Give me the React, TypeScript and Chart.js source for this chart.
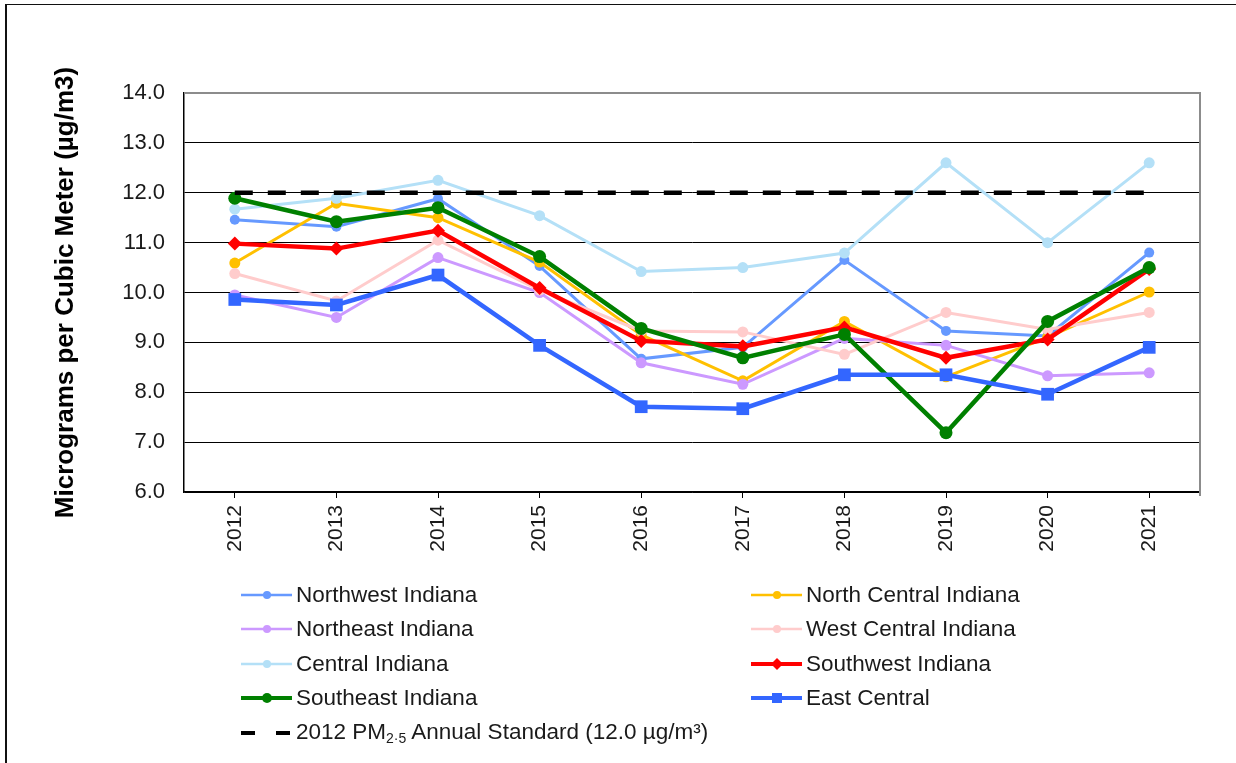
import React, { useEffect, useRef } from "react";
import { Chart, registerables } from "chart.js";

Chart.register(...registerables);

const years = ["2012", "2013", "2014", "2015", "2016", "2017", "2018", "2019", "2020", "2021"];

const northwest = [11.46, 11.32, 11.88, 10.53, 8.67, 8.9, 10.65, 9.23, 9.13, 10.8];
const northCentral = [10.59, 11.79, 11.5, 10.61, 9.15, 8.23, 9.42, 8.31, 9.1, 10.01];
const northeast = [9.95, 9.5, 10.7, 10.0, 8.59, 8.16, 9.08, 8.94, 8.33, 8.39];
const westCentral = [10.38, 9.83, 11.05, 10.05, 9.23, 9.21, 8.76, 9.6, 9.26, 9.6];
const central = [11.67, 11.89, 12.25, 11.54, 10.42, 10.5, 10.79, 12.6, 11.0, 12.6];
const southwest = [10.98, 10.88, 11.24, 10.09, 9.03, 8.92, 9.3, 8.69, 9.06, 10.47];
const southeast = [11.89, 11.42, 11.7, 10.72, 9.28, 8.69, 9.16, 7.19, 9.42, 10.5];
const eastCentral = [9.86, 9.75, 10.35, 8.94, 7.71, 7.67, 8.35, 8.35, 7.96, 8.9];
const standard = [12, 12, 12, 12, 12, 12, 12, 12, 12, 12];

const yTicks = [6, 7, 8, 9, 10, 11, 12, 13, 14];

const FONT = 'Arial, "Liberation Sans", sans-serif';

type Series = {
  label: string;
  data: number[];
  color: string;
  width: number;
  marker: "circle" | "rectRot" | "rect" | "none";
  radius: number;
  legendRadius: number;
  dashed?: boolean;
};

const series: Series[] = [
  { label: "Northwest Indiana", data: northwest, color: "#6699FF", width: 3, marker: "circle", radius: 5, legendRadius: 4 },
  { label: "North Central Indiana", data: northCentral, color: "#FFC000", width: 3, marker: "circle", radius: 5.5, legendRadius: 4 },
  { label: "Northeast Indiana", data: northeast, color: "#CC99FF", width: 3, marker: "circle", radius: 5.5, legendRadius: 4 },
  { label: "West Central Indiana", data: westCentral, color: "#FFCCCC", width: 3, marker: "circle", radius: 5.5, legendRadius: 4 },
  { label: "Central Indiana", data: central, color: "#B4E0F7", width: 3, marker: "circle", radius: 5.5, legendRadius: 4 },
  { label: "Southwest Indiana", data: southwest, color: "#FF0000", width: 4.5, marker: "rectRot", radius: 7, legendRadius: 6 },
  { label: "Southeast Indiana", data: southeast, color: "#008000", width: 4.5, marker: "circle", radius: 6.5, legendRadius: 5 },
  { label: "East Central", data: eastCentral, color: "#3366FF", width: 4.5, marker: "rect", radius: 9, legendRadius: 5 },
  { label: "2012 PM2.5 Annual Standard (12.0 µg/m³)", data: standard, color: "#000000", width: 4.5, marker: "none", radius: 0, legendRadius: 0, dashed: true },
];

const legendOrder = [0, 1, 2, 3, 4, 5, 6, 7, 8];

const plotBorder = {
  id: "plotBorder",
  beforeDatasetsDraw(chart: any) {
    const { ctx, chartArea } = chart;
    ctx.save();
    ctx.strokeStyle = "#8c8c8c";
    ctx.lineWidth = 2;
    ctx.beginPath();
    ctx.moveTo(chartArea.left, chartArea.top);
    ctx.lineTo(chartArea.right, chartArea.top);
    ctx.lineTo(chartArea.right, chartArea.bottom + 4);
    ctx.stroke();
    ctx.restore();
  },
};

function LegendSymbol({ s }: { s: Series }) {
  const cx = 27;
  const cy = 12;
  const r = s.legendRadius;
  return (
    <svg width={54} height={24} style={{ display: "block", flex: "none" }}>
      <line
        x1={1}
        y1={cy}
        x2={52}
        y2={cy}
        stroke={s.color}
        strokeWidth={s.dashed ? 4 : s.width - 0.5}
        strokeDasharray={s.dashed ? "14 21" : undefined}
      />
      {s.marker === "circle" && <circle cx={cx} cy={cy} r={r} fill={s.color} />}
      {s.marker === "rectRot" && (
        <polygon points={`${cx},${cy - r} ${cx + r},${cy} ${cx},${cy + r} ${cx - r},${cy}`} fill={s.color} />
      )}
      {s.marker === "rect" && <rect x={cx - r} y={cy - r} width={2 * r} height={2 * r} fill={s.color} />}
    </svg>
  );
}

function LegendText({ s }: { s: Series }) {
  if (s.dashed) {
    return (
      <span>
        2012 PM
        <span style={{ fontSize: 14, position: "relative", top: 4 }}>2·5</span> Annual Standard (12.0 µg/m³)
      </span>
    );
  }
  return <span>{s.label}</span>;
}

export default function App() {
  const canvasRef = useRef<HTMLCanvasElement | null>(null);

  useEffect(() => {
    const canvas = canvasRef.current;
    if (!canvas) return;
    const n = series.length;
    const chart = new Chart(canvas, {
      type: "line",
      data: {
        labels: years,
        datasets: series.map((s, i) => ({
          label: s.label,
          data: s.data,
          borderColor: s.color,
          backgroundColor: s.color,
          borderWidth: s.width,
          borderDash: s.dashed ? [18, 15] : [],
          pointStyle: s.marker === "none" ? false : s.marker,
          pointRadius: s.radius,
          pointHoverRadius: s.radius,
          pointBorderWidth: 0,
          pointBackgroundColor: s.color,
          pointBorderColor: s.color,
          tension: 0,
          fill: false,
          order: n - i,
          clip: false as any,
        })),
      },
      options: {
        animation: false,
        responsive: false,
        maintainAspectRatio: false,
        layout: { padding: { left: 0, top: 93, right: 36, bottom: 0 } },
        plugins: {
          legend: { display: false },
          tooltip: { enabled: false },
          title: { display: false },
        },
        scales: {
          x: {
            type: "category",
            offset: true,
            grid: {
              display: true,
              drawOnChartArea: false,
              drawTicks: true,
              tickLength: 6,
              color: "#000",
              lineWidth: 1,
              offset: false,
            },
            border: { display: true, color: "#000", width: 1.5 },
            ticks: {
              minRotation: 90,
              maxRotation: 90,
              padding: 7,
              color: "#1a1a1a",
              font: { family: FONT, size: 21 },
            },
            afterFit(scale: any) {
              scale.height = 763 - 492;
            },
          },
          y: {
            type: "linear",
            min: yTicks[0],
            max: yTicks[yTicks.length - 1],
            afterBuildTicks(scale: any) {
              scale.ticks = yTicks.map((v) => ({ value: v }));
            },
            grid: { color: "#000", lineWidth: 1, drawTicks: false },
            border: { display: true, color: "#000", width: 1.5 },
            ticks: {
              padding: 19,
              color: "#1a1a1a",
              font: { family: FONT, size: 22 },
              callback: (v: any) => Number(v).toFixed(1),
            },
            title: {
              display: true,
              text: "Micrograms per Cubic Meter (µg/m3)",
              color: "#000",
              font: { family: FONT, size: 26, weight: "bold" },
              padding: { top: 50, bottom: 0 },
            },
            afterFit(scale: any) {
              scale.width = 184;
            },
          },
        },
      },
      plugins: [plotBorder],
    });
    return () => chart.destroy();
  }, []);

  const rowTop = (i: number) => 594.5 + 34.6 * i - 12;

  return (
    <div style={{ position: "absolute", left: 0, top: 0, width: 1236, height: 763, background: "#fff", overflow: "hidden", fontFamily: FONT }}>
      <div
        style={{
          position: "absolute",
          left: 5,
          top: 4,
          width: 1260,
          height: 800,
          borderTop: "1.5px solid #111",
          borderLeft: "2px solid #111",
          boxSizing: "border-box",
        }}
      />
      <canvas ref={canvasRef} width={1236} height={763} style={{ position: "absolute", left: 0, top: 0, width: 1236, height: 763 }} />
      {legendOrder.map((idx, k) => {
        const s = series[idx];
        const col = k === 8 ? 0 : k % 2;
        const row = k === 8 ? 4 : Math.floor(k / 2);
        const left = col === 0 ? 240 : 750;
        return (
          <div
            key={s.label}
            style={{
              position: "absolute",
              left,
              top: rowTop(row),
              height: 24,
              display: "flex",
              alignItems: "center",
              whiteSpace: "nowrap",
              fontSize: 22.5,
              lineHeight: "24px",
              color: "#1a1a1a",
            }}
          >
            <LegendSymbol s={s} />
            <div style={{ width: 2 }} />
            <LegendText s={s} />
          </div>
        );
      })}
    </div>
  );
}
